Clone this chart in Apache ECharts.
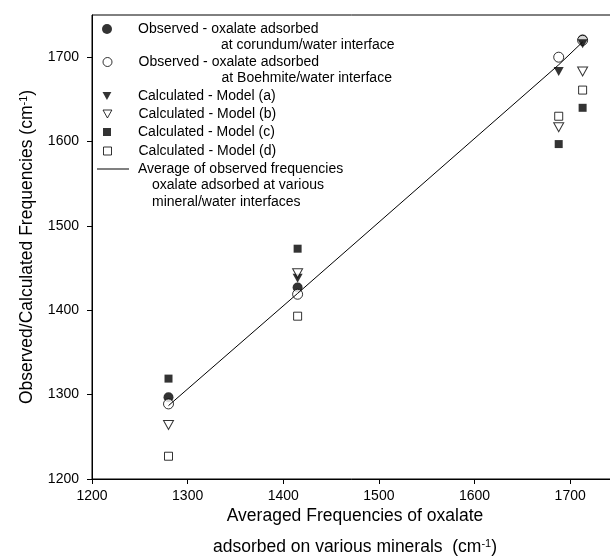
<!DOCTYPE html>
<html lang="en">
  <head>
    <meta charset="UTF-8" />
    <title>Oxalate frequencies</title>
    <style>
      body {
        margin: 0;
        background-color: #fff;
      }
      #chart-1 {
        width: 610px;
        height: 559px;
      }
    </style>
  </head>
  <body>
    <div id="chart-1"></div>
    <script src="https://cdn.jsdelivr.net/npm/echarts@6/dist/echarts.min.js"></script>
    <script>
      // averaged frequencies (x) and values per series
      const xValues = [1280, 1415, 1688, 1713];
      const obsCorundum = [1297, 1427, null, 1721];
      const obsBoehmite = [1289, 1419, 1700, 1720];
      const modelA = [null, 1438, 1683, 1716];
      const modelB = [1264, 1444, 1617, 1683];
      const modelC = [1319, 1473, 1597, 1640];
      const modelD = [1227, 1393, 1630, 1661];
      const averageLine = [1287, 1420, 1691, 1718];
      const tickValues = [1200, 1300, 1400, 1500, 1600, 1700];

      const font = "Liberation Sans, Arial, sans-serif";
      const TEXT_X = 138;
      const ICON_X = 107;
      const LINE_H = 16.5;
      const DOWN_TRIANGLE = "path://M0,0L10,0L5,9Z";

      const toPairs = (ys) =>
        xValues.map((x, i) => [x, ys[i]]).filter((p) => p[1] !== null);

      const filled = { color: "#000" };
      const hollow = { color: "#fff", borderColor: "#000", borderWidth: 1 };

      // legend entries: first line, continuation lines, indent of continuation
      const seriesDefs = [
        {
          name: "obsCorundum",
          label: ["Observed - oxalate adsorbed", "at corundum/water interface"],
          indent: 83,
          data: obsCorundum,
          symbol: "circle",
          size: 10,
          icon: [10, 10],
          style: filled,
          cy: 29,
        },
        {
          name: "obsBoehmite",
          label: ["Observed - oxalate adsorbed", "at Boehmite/water interface"],
          indent: 83,
          data: obsBoehmite,
          symbol: "circle",
          size: 10,
          icon: [9, 9],
          style: hollow,
          cy: 62,
        },
        {
          name: "modelA",
          label: ["Calculated - Model (a)"],
          data: modelA,
          symbol: DOWN_TRIANGLE,
          size: [10, 9],
          icon: [9, 8],
          style: filled,
          cy: 96,
        },
        {
          name: "modelB",
          label: ["Calculated - Model (b)"],
          data: modelB,
          symbol: DOWN_TRIANGLE,
          size: [10, 9],
          icon: [9, 8],
          style: hollow,
          cy: 114,
        },
        {
          name: "modelC",
          label: ["Calculated - Model (c)"],
          data: modelC,
          symbol: "rect",
          size: 8,
          icon: [8, 8],
          style: filled,
          cy: 132,
        },
        {
          name: "modelD",
          label: ["Calculated - Model (d)"],
          data: modelD,
          symbol: "rect",
          size: 8,
          icon: [8, 8],
          style: hollow,
          cy: 151,
        },
      ];

      const lineDef = {
        name: "average",
        label: [
          "Average of observed frequencies",
          "oxalate adsorbed at various",
          "mineral/water interfaces",
        ],
        indent: 14,
        icon: [32, 1],
        cy: 169,
      };

      const richBase = {
        fontFamily: font,
        fontSize: 14,
        color: "#000",
        lineHeight: LINE_H,
      };

      function makeLegend(d, left) {
        const pad = TEXT_X - (left + d.icon[0] + 5);
        const rest = d.label.slice(1);
        // empty lines on top keep the icon level with the first text line
        const lines = rest.map(() => "").concat(
          ["{p| }{t|" + d.label[0] + "}"],
          rest.map((s) => "{q| }{t|" + s + "}")
        );
        const item =
          d.icon[1] === 1
            ? { name: d.name, icon: "rect" }
            : {
                name: d.name,
                icon: d.symbol,
                itemStyle: { borderWidth: d.style.borderWidth || 0 },
              };
        return {
          data: [item],
          left: left,
          top: d.cy - (LINE_H / 2) * lines.length,
          padding: 0,
          itemWidth: d.icon[0],
          itemHeight: d.icon[1],
          selectedMode: false,
          formatter: () => lines.join("\n"),
          textStyle: Object.assign({}, richBase, {
            rich: {
              p: Object.assign({}, richBase, { width: Math.max(pad, 1) }),
              q: Object.assign({}, richBase, { width: pad + (d.indent || 0) }),
              t: richBase,
            },
          }),
        };
      }

      const legends = seriesDefs.map((d) =>
        makeLegend(d, ICON_X - d.icon[0] / 2)
      );
      legends.push(makeLegend(lineDef, 97));

      const series = seriesDefs.map((d) => ({
        name: d.name,
        type: "scatter",
        data: toPairs(d.data),
        symbol: d.symbol,
        symbolSize: d.size,
        itemStyle: d.style,
      }));
      series.push({
        name: lineDef.name,
        type: "line",
        data: toPairs(averageLine),
        symbol: "none",
        lineStyle: { color: "#000", width: 1 },
        itemStyle: { color: "#000" },
        z: 3,
      });

      const axisBase = {
        type: "value",
        min: 1200,
        max: 1750,
        axisLine: { lineStyle: { color: "#000", width: 1 } },
        axisTick: {
          length: 5,
          lineStyle: { color: "#000" },
          customValues: tickValues,
        },
        axisLabel: {
          color: "#000",
          fontFamily: font,
          fontSize: 14,
          customValues: tickValues,
          formatter: (v) => String(v),
        },
        splitLine: { show: false },
        nameLocation: "middle",
      };

      const supStyle = {
        fontFamily: font,
        fontSize: 11,
        color: "#000",
        padding: [0, 0, 8, 0],
      };

      const chart1 = echarts.init(document.querySelector("#chart-1"));
      chart1.setOption({
        backgroundColor: "#fff",
        animation: false,
        grid: {
          left: 92,
          right: -8,
          top: 15,
          bottom: 80,
          outerBoundsMode: "none",
          containLabel: false,
          show: true,
          borderColor: "#000",
          borderWidth: 1,
        },
        legend: legends,
        xAxis: Object.assign({}, axisBase, {
          axisLabel: Object.assign({}, axisBase.axisLabel, { margin: 10 }),
          name: "Averaged Frequencies of oxalate\nadsorbed on various minerals  (cm{sup|-1})",
          nameGap: 22,
          nameMoveOverlap: false,
          nameTextStyle: {
            color: "#000",
            fontFamily: font,
            fontSize: 17.5,
            lineHeight: 31,
            verticalAlign: "top",
            rich: { sup: supStyle },
          },
        }),
        yAxis: Object.assign({}, axisBase, {
          axisLabel: Object.assign({}, axisBase.axisLabel, { margin: 13 }),
          name: "Observed/Calculated Frequencies (cm{sup|-1})",
          nameGap: 55,
          nameTextStyle: {
            color: "#000",
            fontFamily: font,
            fontSize: 17.5,
            rich: { sup: supStyle },
          },
        }),
        series: series,
      });
    </script>
  </body>
</html>
